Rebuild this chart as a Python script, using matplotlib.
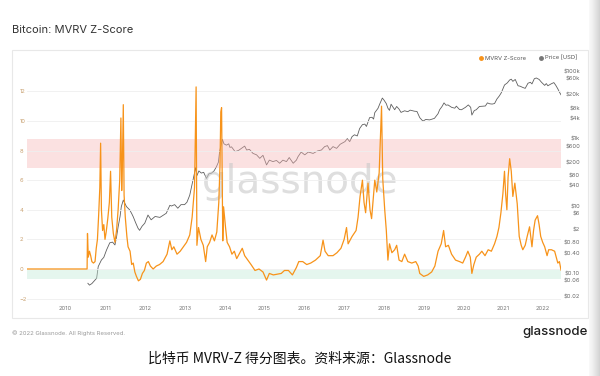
import matplotlib
matplotlib.use("Agg")
import matplotlib.pyplot as plt
import numpy as np
from matplotlib.lines import Line2D
from matplotlib.patches import Rectangle

plt.rcParams['font.family'] = ['Inter', 'DejaVu Sans']

# MVRV Z-Score (decimal year, z)
z_years = [2009.03, 2010.54, 2010.55, 2010.57, 2010.60, 2010.63, 2010.66, 2010.70, 2010.74, 2010.77,
           2010.80, 2010.83, 2010.86, 2010.88, 2010.90, 2010.93, 2010.96, 2010.99, 2011.02, 2011.06,
           2011.10, 2011.13, 2011.16, 2011.20, 2011.24, 2011.28, 2011.32, 2011.36, 2011.39, 2011.41,
           2011.43, 2011.45, 2011.47, 2011.50, 2011.54, 2011.57, 2011.62, 2011.66, 2011.70, 2011.74,
           2011.78, 2011.83, 2011.88, 2011.93, 2011.98, 2012.03, 2012.08, 2012.13, 2012.20, 2012.28,
           2012.36, 2012.45, 2012.55, 2012.62, 2012.67, 2012.72, 2012.80, 2012.88, 2012.96, 2013.04,
           2013.12, 2013.18, 2013.24, 2013.28, 2013.30, 2013.34, 2013.40, 2013.46, 2013.52, 2013.56,
           2013.62, 2013.68, 2013.74, 2013.80, 2013.85, 2013.88, 2013.90, 2013.92, 2013.95, 2013.97,
           2014.02, 2014.06, 2014.12, 2014.18, 2014.24, 2014.30, 2014.36, 2014.44, 2014.50, 2014.58,
           2014.66, 2014.76, 2014.86, 2014.96, 2015.05, 2015.12, 2015.22, 2015.32, 2015.42, 2015.50,
           2015.60, 2015.70, 2015.80, 2015.86, 2015.96, 2016.06, 2016.16, 2016.28, 2016.40, 2016.47,
           2016.52, 2016.60, 2016.72, 2016.82, 2016.92, 2017.00, 2017.06, 2017.10, 2017.20, 2017.30,
           2017.35, 2017.40, 2017.46, 2017.50, 2017.54, 2017.60, 2017.65, 2017.69, 2017.74, 2017.77,
           2017.82, 2017.88, 2017.94, 2017.97, 2018.02, 2018.06, 2018.10, 2018.14, 2018.20, 2018.27,
           2018.32, 2018.38, 2018.45, 2018.52, 2018.60, 2018.70, 2018.80, 2018.86, 2018.90, 2019.00,
           2019.10, 2019.20, 2019.28, 2019.36, 2019.44, 2019.50, 2019.55, 2019.62, 2019.70, 2019.80,
           2019.90, 2019.98, 2020.05, 2020.11, 2020.17, 2020.21, 2020.26, 2020.32, 2020.40, 2020.46,
           2020.54, 2020.62, 2020.70, 2020.78, 2020.84, 2020.89, 2020.94, 2020.99, 2021.03, 2021.06,
           2021.09, 2021.12, 2021.16, 2021.20, 2021.24, 2021.29, 2021.35, 2021.40, 2021.45, 2021.49,
           2021.55, 2021.60, 2021.66, 2021.72, 2021.76, 2021.80, 2021.86, 2021.90, 2021.94, 2021.99,
           2022.04, 2022.10, 2022.14, 2022.21, 2022.29, 2022.33, 2022.37, 2022.41, 2022.45]
z_values = [0.0, 0.0, 2.4, 0.8, 1.2, 0.9, 0.5, 0.4, 0.5, 1.4,
            2.0, 3.6, 5.5, 8.5, 4.0, 2.6, 3.0, 2.0, 2.5, 3.4,
            4.5, 6.6, 3.5, 2.4, 1.8, 2.6, 4.0, 6.0, 10.2, 5.3,
            7.5, 11.1, 5.0, 3.5, 2.2, 1.5, 1.2, 0.3, 0.4, -0.2,
            -0.5, -0.8, -0.7, -0.3, -0.1, 0.4, 0.5, 0.2, 0.0, 0.2,
            0.3, 0.5, 1.0, 1.9, 1.3, 1.5, 1.0, 1.2, 1.5, 1.8,
            2.3, 3.5, 5.5, 12.3, 1.6, 2.8, 2.0, 1.6, 0.5, 1.5,
            1.8, 2.3, 1.9, 2.5, 4.5, 7.0, 10.6, 10.9, 1.9, 4.2,
            2.8, 1.8, 1.5, 1.0, 1.2, 0.7, 1.0, 1.4, 0.9, 0.6,
            0.3, -0.1, 0.0, -0.2, -0.75, -0.3, -0.4, -0.35, -0.3, -0.1,
            -0.1, -0.4, 0.1, 0.5, 0.5, 0.3, 0.4, 0.6, 0.9, 1.95,
            1.2, 0.9, 0.9, 1.1, 1.4, 2.0, 2.8, 1.7, 2.2, 2.6,
            3.5, 4.9, 6.0, 4.5, 3.8, 5.8, 4.0, 3.4, 5.0, 6.0,
            5.2, 6.5, 11.0, 6.1, 4.0, 2.6, 0.6, 1.7, 1.1, 1.3,
            1.6, 0.6, 0.5, 1.0, 0.5, 0.4, 0.5, 0.2, -0.3, -0.5,
            -0.4, -0.2, 0.2, 1.2, 1.7, 2.6, 1.5, 1.6, 1.0, 0.6,
            0.5, 0.4, 0.8, 1.2, 0.8, -0.3, 0.3, 0.8, 1.0, 1.2,
            0.9, 1.3, 1.2, 1.7, 2.2, 2.8, 3.8, 5.1, 6.6, 5.0,
            4.0, 6.2, 7.45, 6.6, 4.9, 5.8, 4.4, 2.2, 1.6, 1.3,
            1.6, 2.2, 2.85, 1.5, 2.6, 3.3, 3.6, 3.0, 2.2, 1.8,
            1.5, 0.9, 1.3, 1.3, 1.2, 0.8, 0.4, 0.5, -0.07]

# Price [USD] (decimal year, price)
p_years = [2010.56, 2010.60, 2010.66, 2010.72, 2010.78, 2010.82, 2010.86, 2010.90, 2010.96, 2011.03,
           2011.11, 2011.18, 2011.24, 2011.28, 2011.32, 2011.37, 2011.40, 2011.45, 2011.49, 2011.53,
           2011.61, 2011.66, 2011.70, 2011.76, 2011.82, 2011.86, 2011.92, 2011.99, 2012.07, 2012.15,
           2012.25, 2012.37, 2012.45, 2012.53, 2012.62, 2012.66, 2012.74, 2012.82, 2012.90, 2012.99,
           2013.05, 2013.12, 2013.16, 2013.20, 2013.27, 2013.30, 2013.35, 2013.41, 2013.47, 2013.54,
           2013.60, 2013.67, 2013.73, 2013.79, 2013.84, 2013.87, 2013.94, 2013.98, 2014.04, 2014.10,
           2014.13, 2014.17, 2014.26, 2014.35, 2014.42, 2014.50, 2014.55, 2014.62, 2014.71, 2014.80,
           2014.88, 2014.96, 2015.05, 2015.12, 2015.21, 2015.30, 2015.38, 2015.46, 2015.55, 2015.62,
           2015.72, 2015.80, 2015.84, 2015.92, 2016.01, 2016.10, 2016.22, 2016.33, 2016.43, 2016.51,
           2016.58, 2016.64, 2016.72, 2016.81, 2016.90, 2017.02, 2017.08, 2017.14, 2017.20, 2017.26,
           2017.33, 2017.39, 2017.46, 2017.52, 2017.56, 2017.64, 2017.70, 2017.74, 2017.77, 2017.85,
           2017.90, 2017.96, 2018.00, 2018.06, 2018.10, 2018.14, 2018.18, 2018.23, 2018.27, 2018.32,
           2018.38, 2018.43, 2018.52, 2018.60, 2018.66, 2018.77, 2018.83, 2018.90, 2018.98, 2019.05,
           2019.15, 2019.27, 2019.36, 2019.40, 2019.46, 2019.51, 2019.56, 2019.61, 2019.70, 2019.78,
           2019.82, 2019.90, 2019.95, 2020.05, 2020.12, 2020.18, 2020.21, 2020.27, 2020.32, 2020.40,
           2020.49, 2020.55, 2020.60, 2020.66, 2020.72, 2020.78, 2020.84, 2020.90, 2020.95, 2021.00,
           2021.03, 2021.10, 2021.16, 2021.20, 2021.24, 2021.30, 2021.37, 2021.42, 2021.49, 2021.55,
           2021.62, 2021.68, 2021.72, 2021.78, 2021.83, 2021.90, 2021.96, 2022.04, 2022.08, 2022.12,
           2022.20, 2022.27, 2022.32, 2022.37, 2022.41, 2022.45]
p_values = [0.051, 0.045, 0.05, 0.06, 0.072, 0.16, 0.2, 0.25, 0.3, 0.5,
            0.81, 0.85, 0.70, 1.2, 2.4, 5, 9.6, 15, 12, 9.6,
            7.7, 6, 4.8, 3.2, 2.2, 1.9, 2.5, 3.1, 5.4, 3.9,
            4.9, 4.6, 5.3, 6.1, 10.5, 10, 11, 8.6, 11, 11,
            13, 21, 35, 60, 140, 80, 110, 95, 100, 66,
            90, 95, 110, 146, 200, 410, 950, 700, 640, 700,
            550, 570, 410, 450, 514, 600, 460, 480, 364, 330,
            260, 320, 166, 230, 208, 225, 186, 230, 208, 275,
            186, 230, 290, 400, 330, 400, 364, 430, 460, 580,
            620, 460, 580, 514, 680, 815, 1000, 815, 1150, 1300,
            1200, 2000, 2600, 2700, 2300, 4200, 4300, 3800, 5900, 7900,
            11000, 16000, 14000, 10900, 8000, 6900, 10500, 8500, 7200, 9000,
            7500, 6000, 6700, 6300, 7000, 6500, 6400, 4200, 3300, 3700,
            3600, 4000, 5500, 7200, 9000, 11500, 9800, 10000, 8500, 8000,
            9200, 7300, 7200, 8500, 10000, 8500, 5000, 6800, 7200, 9000,
            9200, 9300, 11500, 10800, 10600, 11000, 15000, 18500, 23000, 32000,
            39000, 45000, 55000, 58000, 50000, 57000, 37000, 36000, 33000, 31000,
            44000, 47000, 42000, 60000, 63000, 57000, 47000, 38000, 43000, 37000,
            42000, 46000, 38000, 30000, 24000, 20000]

year_ticks = list(range(2010, 2023))
z_ticks = [-2, 0, 2, 4, 6, 8, 10, 12]
price_ticks = [100000, 60000, 20000, 8000, 4000, 1000, 600, 200, 80, 40, 10, 6, 2, 0.8, 0.4, 0.1, 0.06, 0.02]
price_labels = ['$100k', '$60k', '$20k', '$8k', '$4k', '$1k', '$600', '$200', '$80', '$40',
                '$10', '$6', '$2', '$0.80', '$0.40', '$0.10', '$0.06', '$0.02']

orange = '#f7931a'
gray_line = '#5f5f5f'

fig = plt.figure(figsize=(6, 3.76), dpi=100)

# chart card
fig.patches.append(Rectangle((12 / 600, 1 - 318 / 376), 576 / 600, 268 / 376,
                             transform=fig.transFigure, facecolor='white',
                             edgecolor='#e8e8e8', lw=0.8, zorder=-1))

rect = [27 / 600, 1 - 302 / 376, 534 / 600, 237 / 376]
axp = fig.add_axes(rect)
axz = fig.add_axes(rect, sharex=axp)
axp.set_zorder(1)
axz.set_zorder(2)
axz.patch.set_visible(False)
axp.patch.set_visible(False)

# price on the right, log scale
axp.plot(p_years, p_values, color=gray_line, lw=0.6)
axp.set_yscale('log')
axp.set_ylim(0.0142, 1.53e5)
axp.yaxis.tick_right()
axp.set_yticks(price_ticks, price_labels)
axp.minorticks_off()
axp.tick_params(axis='y', length=0, labelsize=4.2, labelcolor='#6a6a6a', pad=13.7)
for lab in axp.get_yticklabels():
    lab.set_horizontalalignment('right')

# z-score on the left
axz.axhspan(6.8, 8.8, color='#f7b5b5', alpha=0.4, lw=0, zorder=0)
axz.axhspan(-0.65, -0.1, color='#bfe9d6', alpha=0.4, lw=0, zorder=0)
axz.text(0.511, 0.506, 'glassnode', transform=axz.transAxes, ha='center', va='center',
         fontsize=28, color='#c8c8c8', alpha=0.6, family='DejaVu Sans', zorder=0.5)
axz.plot(z_years, z_values, color=orange, lw=0.9, zorder=2)
axz.set_ylim(-2.23, 13.78)
axz.set_xlim(2009.03, 2022.45)
axz.set_yticks(z_ticks)
axz.set_xticks(year_ticks)
axz.grid(axis='y', color='#efefef', lw=0.6, zorder=0)
axz.tick_params(axis='y', length=0, labelsize=4.2, labelcolor='#c9a272', pad=5.4)
for lab in axz.get_yticklabels():
    lab.set_horizontalalignment('left')
axz.tick_params(axis='x', length=0, labelsize=4.2, labelcolor='#777777', pad=3)
axp.tick_params(axis='x', length=0, labelbottom=False)

for a in (axp, axz):
    for s in a.spines.values():
        s.set_visible(False)

# legend
handles = [Line2D([], [], marker='o', ls='', color=orange, ms=2.5, label='MVRV Z-Score'),
           Line2D([], [], marker='o', ls='', color='#777777', ms=2.5, label='Price [USD]')]
fig.legend(handles=handles, loc='center right', bbox_to_anchor=(580 / 600, 1 - 58 / 376),
           ncol=2, frameon=False, fontsize=4.2, handletextpad=0.1, columnspacing=2.2,
           borderpad=0, handlelength=1, labelcolor='#555555')

fig.text(12 / 600, 1 - 30 / 376, 'Bitcoin: MVRV Z-Score', fontsize=8, color='#333333',
         ha='left', va='center')
fig.text(12 / 600, 1 - 333 / 376, '© 2022 Glassnode. All Rights Reserved.', fontsize=4.3,
         color='#9a9a9a', ha='left', va='center')
fig.text(588 / 600, 1 - 332 / 376, 'glassnode', fontsize=9.5, color='#1e1e1e',
         fontweight='medium', ha='right', va='center')
fig.text(300 / 600, 1 - 359 / 376, '比特币 MVRV-Z 得分图表。资料来源：Glassnode', fontsize=10,
         color='#111111', ha='center', va='center',
         family=['Noto Sans CJK SC', 'DejaVu Sans'])

# page shadow on the right edge
shade = fig.add_axes([589 / 600, 0, 11 / 600, 1])
shade.set_zorder(3)
grad = np.linspace(0, 1, 50)[None, :]
shade.imshow(grad, aspect='auto', cmap='Greys', vmin=-0.2, vmax=4, extent=[0, 1, 0, 1])
shade.axis('off')

fig.savefig('out.png', dpi=100)
